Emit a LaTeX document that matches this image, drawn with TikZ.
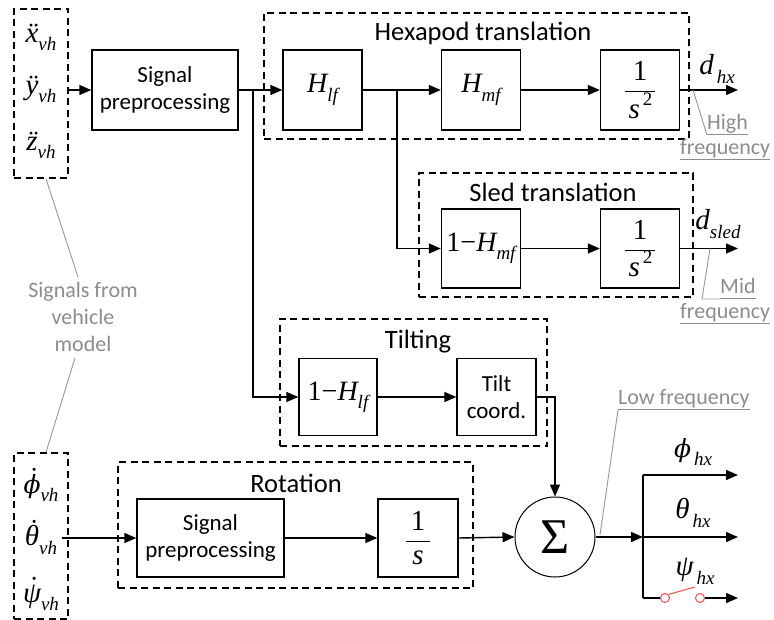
\documentclass[tikz,border=0pt]{standalone}
\usepackage{fontspec}
\setmainfont{Carlito}
\newfontfamily\tms{Liberation Serif}
\newfontfamily\djv{DejaVu Serif}
\newcommand{\mi}[1]{{\tms\itshape #1}}
\newcommand{\vphi}{{\djv\itshape\fontsize{25}{28}\selectfont\symbol{"03D5}}}
\newcommand{\sbs}[1]{\raisebox{-0.3em}{\fontsize{19}{20}\selectfont\tms\itshape #1}}
\newcommand{\ddt}[1]{\ooalign{\mi{#1}\cr\hidewidth\kern0.12em{\tms\symbol{"A8}}\hidewidth\cr}}
\newcommand{\sdt}[1]{\ooalign{#1\cr\hidewidth\kern0.15em\raisebox{0.2em}{\tms\symbol{"2D9}}\hidewidth\cr}}
\usetikzlibrary{arrows.meta,calc}
\definecolor{leadgray}{RGB}{150,150,150}
\definecolor{txtgray}{RGB}{140,140,140}
\definecolor{swred}{RGB}{245,90,90}
\begin{document}
\begin{tikzpicture}[x=1pt,y=-1pt,
  blk/.style={draw,line width=1.4pt,minimum width=79pt,minimum height=79pt,inner sep=0pt,align=center,font=\fontsize{23}{27}\selectfont},
  mblk/.style={blk,font=\fontsize{28}{32}\selectfont\tms},
  fblk/.style={blk,font=\fontsize{29}{32}\selectfont\tms},
  dbox/.style={draw,line width=1.4pt,dash pattern=on 7pt off 4.5pt,inner sep=0pt},
  ttl/.style={font=\fontsize{26.5}{30}\selectfont,inner sep=0pt},
  lbl/.style={font=\fontsize{29}{32}\selectfont\tms,inner sep=0pt},
  olbl/.style={font=\fontsize{29}{32}\selectfont\tms,inner sep=0pt},
  gtxt/.style={text=txtgray,font=\fontsize{22}{27}\selectfont,inner sep=0pt,align=center},
  lead/.style={draw=leadgray,line width=0.9pt},
  ln/.style={line width=1.4pt},
  arr/.style={line width=1.4pt,-{Triangle[length=12pt,width=10pt]}},
  sw/.style={circle,draw=swred,line width=1.1pt,minimum size=9pt,inner sep=0pt}
]
\useasboundingbox (0,0) rectangle (774,620);

% input boxes
\node[dbox,minimum width=54pt,minimum height=169pt] (in1) at (41,93.5) {};
\node[lbl] (lx) at (41,40) {\ddt{x}\sbs{vh}};
\node[lbl] (ly) at (41,92) {\ddt{y}\sbs{vh}};
\node[lbl] (lz) at (41,148) {\ddt{z}\sbs{vh}};

\node[dbox,minimum width=54pt,minimum height=166pt] (in2) at (41,536) {};
\node[lbl] (lphi) at (41,488) {\sdt{\vphi}\sbs{vh}};
\node[lbl] (ltheta) at (41,540) {\sdt{\mi{θ}}\sbs{vh}};
\node[lbl] (lpsi) at (41,598) {\sdt{\mi{ψ}}\sbs{vh}};

% signal preprocessing (top)
\node[blk,minimum width=146pt,minimum height=80pt] (sp1) at (165,90) {Signal\\preprocessing};

% hexapod translation
\node[dbox,minimum width=425pt,minimum height=126pt] (hex) at (476.5,76) {};
\node[ttl] (thex) at (483,33) {Hexapod translation};
\node[mblk,minimum height=80pt] (hlf) at (322.5,90) {\mi{H}\sbs{lf}};
\node[mblk,minimum height=80pt] (hmf) at (481,90) {\mi{H}\sbs{mf}};
\node[fblk,minimum height=80pt] (s2a) at (640,90) {$\displaystyle\frac{\hbox{1}}{\hbox{\kern4pt\mi{s}\kern3pt\raisebox{0.45em}{\fontsize{19}{20}\selectfont 2}\kern3pt}}$};
\node[olbl] (dhx) at (717,69) {\mi{d}\kern3pt\sbs{hx}};

% sled translation
\node[dbox,minimum width=274pt,minimum height=124pt] (sled) at (556,235) {};
\node[ttl] (tsled) at (553,192) {Sled translation};
\node[mblk] (omf) at (481,248.5) {1\symbol{"2212}\mi{H}\sbs{mf}};
\node[fblk] (s2b) at (640,248.5) {$\displaystyle\frac{\hbox{1}}{\hbox{\kern4pt\mi{s}\kern3pt\raisebox{0.45em}{\fontsize{19}{20}\selectfont 2}\kern3pt}}$};
\node[olbl] (dsled) at (718,224) {\mi{d}\sbs{sled}};

% tilting
\node[dbox,minimum width=267pt,minimum height=127pt] (tilt) at (413.5,382.5) {};
\node[ttl] (ttilt) at (418,342) {Tilting};
\node[mblk,minimum width=78pt,minimum height=77pt] (olf) at (338,397) {1\symbol{"2212}\mi{H}\sbs{lf}};
\node[blk,minimum width=79pt,minimum height=77pt] (tc) at (496.5,397) {Tilt\\coord.};

% rotation
\node[dbox,minimum width=355pt,minimum height=126pt] (rot) at (295.5,525) {};
\node[ttl] (trot) at (296,483) {Rotation};
\node[blk,minimum width=147pt,minimum height=78pt] (sp2) at (210.5,538) {Signal\\preprocessing};
\node[fblk,minimum width=80pt,minimum height=78pt] (s1) at (418,538) {$\displaystyle\frac{\hbox{\kern5pt 1\kern5pt}}{\hbox{\mi{s}}}$};

% sum
\node[circle,draw,line width=1pt,minimum size=80pt,inner sep=0pt,font=\fontsize{50}{54}\selectfont\tms] (sum) at (555,537) {Σ};

% outputs
\coordinate (ohx) at (738,90);
\coordinate (osl) at (738,248.5);
\coordinate (jn) at (643,537);
\coordinate (jt) at (643,475);
\coordinate (jb) at (643,598);
\coordinate (ophi) at (738,475);
\coordinate (oth) at (738,537);
\coordinate (opsi) at (738,598);
\node[olbl] (lphx) at (693,452) {\vphi\kern3pt\sbs{hx}};
\node[olbl] (lthx) at (693,513) {\mi{θ}\kern3pt\sbs{hx}};
\node[olbl] (lpshx) at (695,571) {\mi{ψ}\kern3pt\sbs{hx}};
\node[sw] (c1) at (665,598) {};
\node[sw] (c2) at (700,598) {};
\coordinate (lev) at (695,587);

% branch points
\coordinate (b1) at (253,90);
\coordinate (b2) at (397,90);
\coordinate (thin) at (62,538);

% connectors
\draw[arr] (in1.east |- sp1.west) -- (sp1.west);
\draw[arr] (sp1.east) -- (hlf.west);
\draw[arr] (b1) |- (olf.west);
\draw[arr] (hlf.east) -- (hmf.west);
\draw[arr] (b2) |- (omf.west);
\draw[arr] (hmf.east) -- (s2a.west);
\draw[arr] (s2a.east) -- (ohx);
\draw[arr] (omf.east) -- (s2b.west);
\draw[arr] (s2b.east) -- (osl);
\draw[arr] (olf.east) -- (tc.west);
\draw[arr] (tc.east) -| (sum.north);
\draw[arr] (thin) -- (sp2.west);
\draw[arr] (sp2.east) -- (s1.west);
\draw[arr] (s1.east) -- (sum.west);
\draw[arr] (sum.east) -- (jn);
\draw[ln] (jt) -- (jb);
\draw[arr] (jt) -- (ophi);
\draw[arr] (jn) -- (oth);
\draw[ln] (jb) -- (c1.west);
\draw[arr] (c2.east) -- (opsi);
\draw[draw=swred,line width=1.1pt] (c1.north east) -- (lev);

% gray annotations
\node[gtxt] (sig) at (83,317) {Signals from\\vehicle\\model};
\draw[lead] ($(in1.south)+(5,0)$) -- ($(sig.north)+(-5,-5)$);
\draw[lead] ($(sig.south)+(-8,6)$) -- ($(in2.north)+(5,0)$);

\node[gtxt,anchor=south west] (hi1) at (707,135) {\underline{High}};
\node[gtxt,anchor=south west] (hi2) at (680,160) {\underline{frequency}};
\coordinate (hfpt) at (693,90);
\draw[lead] (hfpt) -- (hi1.south west);

\node[gtxt,anchor=south west] (mi1) at (720,299) {\underline{Mid\vphantom{g}}};
\node[gtxt,anchor=south west] (mi2) at (680,324) {\underline{frequency}};
\coordinate (mfpt) at (710,248.5);
\coordinate (mfk) at (702,299);
\draw[lead] (mfpt) -- (mfk) -- (mi1.south west);

\node[gtxt,anchor=south west] (lo) at (618,410) {\underline{Low frequency}};
\coordinate (lfpt) at (600,535);
\draw[lead] (lfpt) -- (lo.south west);
\end{tikzpicture}
\end{document}
